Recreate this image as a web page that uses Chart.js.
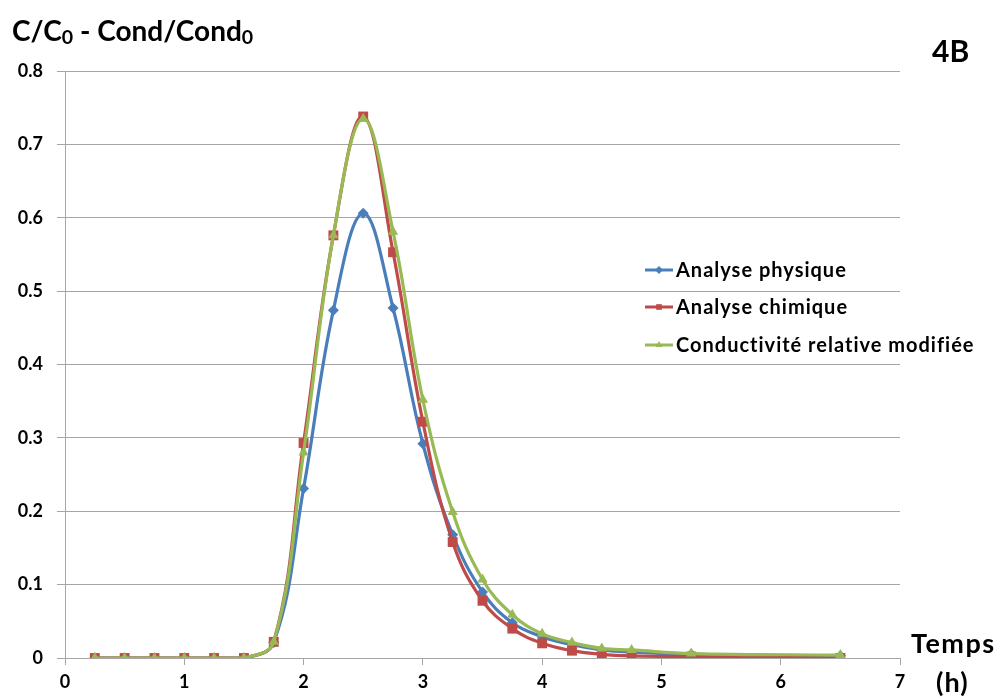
<!DOCTYPE html>
<html>
<head>
<meta charset="utf-8">
<script src="https://cdn.jsdelivr.net/npm/chart.js@4"></script>
<style>
  html, body { margin: 0; padding: 0; background: #fff; }
  #wrap { position: relative; width: 1002px; height: 699px; font-family: Lato, "Liberation Sans", sans-serif; font-weight: bold; color: #000; }
  #c { position: absolute; left: 0; top: 0; }
  .lbl { position: absolute; white-space: nowrap; line-height: 1; }
  .lbl sub { font-size: 0.7em; vertical-align: -0.15em; }
</style>
</head>
<body>
<div id="wrap">
  <canvas id="c" width="1002" height="699"></canvas>
  <div class="lbl" style="left:12px; top:16px; font-size:28px;">C/C<sub>0</sub> - Cond/Cond<sub>0</sub></div>
  <div class="lbl" style="left:932px; top:35px; font-size:30px;">4B</div>
  <div class="lbl" style="left:911px; top:629px; font-size:27px; letter-spacing:1.5px;">Temps</div>
  <div class="lbl" style="left:936px; top:668px; font-size:27px; letter-spacing:1px;">(h)</div>
</div>
<script>
// temps (h)
const temps = [0.25, 0.5, 0.75, 1, 1.25, 1.5, 1.75, 2, 2.25, 2.5, 2.75, 3, 3.25, 3.5, 3.75, 4, 4.25, 4.5, 4.75, 5.25, 6.5];

const physique = [0, 0, 0, 0, 0, 0, 0.021, 0.231, 0.474, 0.606, 0.477, 0.292, 0.168, 0.090, 0.048, 0.029, 0.018, 0.011, 0.008, 0.005, 0.003];
const chimique = [0, 0, 0, 0, 0, 0, 0.022, 0.293, 0.576, 0.738, 0.553, 0.322, 0.158, 0.078, 0.040, 0.020, 0.010, 0.005, 0.003, 0.002, 0.000];
const conductivite = [0, 0, 0, 0, 0, 0, 0.022, 0.280, 0.576, 0.735, 0.581, 0.352, 0.199, 0.107, 0.059, 0.033, 0.021, 0.013, 0.011, 0.006, 0.004];

const seriesNames = ["Analyse physique", "Analyse chimique", "Conductivité relative modifiée"];
const seriesColors = ["#4a7ebb", "#be4b48", "#98b954"];
const seriesMarkers = ["rectRot", "rect", "triangle"];

const yTicks = [0, 0.1, 0.2, 0.3, 0.4, 0.5, 0.6, 0.7, 0.8];

const FONT = "Lato, 'Liberation Sans', sans-serif";
const GRID = "#a6a6a6";

function pts(ys) {
  return temps.map((t, i) => ({ x: t, y: ys[i] }));
}

const allSeries = [physique, chimique, conductivite];
const markerSize = [5.5, 7, 6];

// légende dessinée dans la zone du graphique
const legendInside = {
  id: "legendInside",
  afterDraw(chart) {
    const c = chart.ctx;
    const rows = [270, 307, 345];
    c.save();
    c.font = "bold 20px " + FONT;
    c.letterSpacing = "1px";
    c.textBaseline = "middle";
    seriesNames.forEach((name, i) => {
      const y = rows[i];
      c.strokeStyle = seriesColors[i];
      c.lineWidth = 3;
      c.beginPath();
      c.moveTo(645, y);
      c.lineTo(673, y);
      c.stroke();
      c.fillStyle = seriesColors[i];
      Chart.helpers.drawPoint(c, { pointStyle: seriesMarkers[i], radius: 4, rotation: 0 }, 659, y);
      c.fillStyle = "#000";
      c.fillText(name, 676, y + 1);
    });
    c.restore();
  }
};

new Chart(document.getElementById("c"), {
  type: "line",
  data: {
    datasets: allSeries.map((ys, i) => ({
      label: seriesNames[i],
      data: pts(ys),
      order: 3 - i,
      borderColor: seriesColors[i],
      backgroundColor: seriesColors[i],
      borderWidth: 3.2,
      pointStyle: seriesMarkers[i],
      pointRadius: markerSize[i],
      pointBorderWidth: 0,
      tension: 0.4,
      fill: false
    }))
  },
  options: {
    responsive: false,
    animation: false,
    layout: { padding: { top: 71, right: 102, left: 0, bottom: 0 } },
    plugins: { legend: { display: false }, tooltip: { enabled: false } },
    scales: {
      x: {
        type: "linear",
        min: 0,
        max: 7,
        afterFit: (s) => { s.height = 41; },
        ticks: { stepSize: 1, color: "#000", padding: 6, font: { family: FONT, size: 18, weight: "bold" } },
        grid: { drawOnChartArea: false, drawTicks: true, tickLength: 7, color: GRID },
        border: { color: GRID }
      },
      y: {
        min: 0,
        max: 0.8,
        afterFit: (s) => { s.width = 65; },
        afterBuildTicks: (s) => { s.ticks = yTicks.map((v) => ({ value: v })); },
        ticks: {
          color: "#000",
          padding: 14,
          callback: (v) => String(+v.toFixed(1)),
          font: { family: FONT, size: 18, weight: "bold" }
        },
        grid: { color: GRID, tickLength: 8 },
        border: { color: GRID }
      }
    }
  },
  plugins: [legendInside]
});
</script>
</body>
</html>
